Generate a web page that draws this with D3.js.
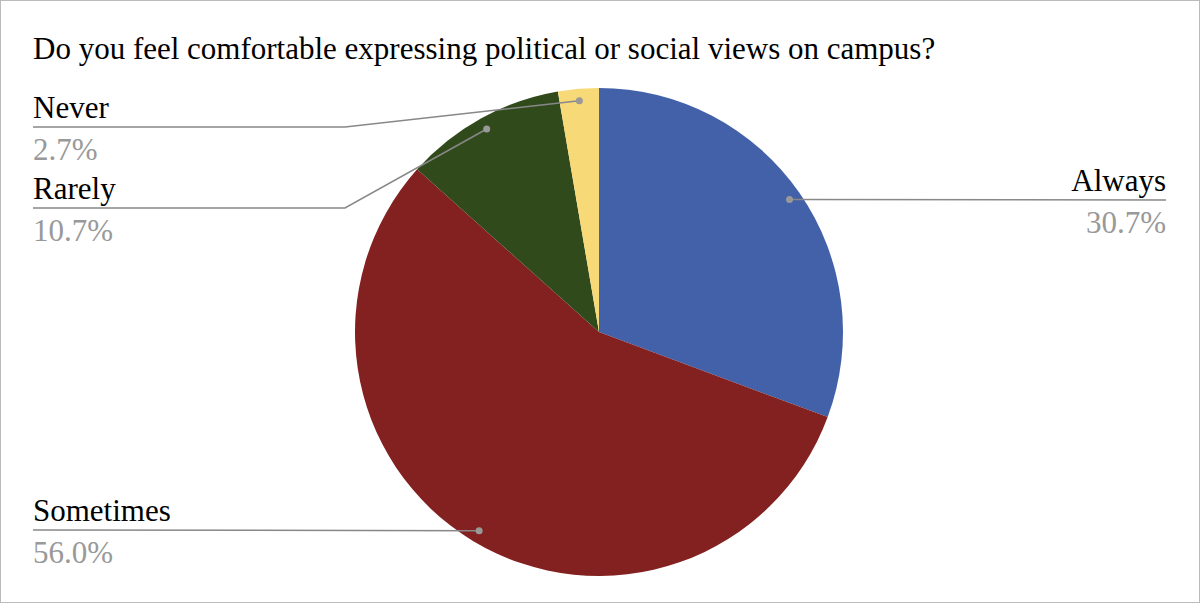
<!DOCTYPE html>
<html><head><meta charset="utf-8">
<script src="https://cdn.jsdelivr.net/npm/d3@7"></script>
<style>body{margin:0;background:#fff}</style>
</head><body>
<svg id="chart" width="1200" height="603"></svg>
<script>
const categories = ["Always", "Sometimes", "Rarely", "Never"];
const values = [30.7, 56.0, 10.7, 2.7];
const colors = ["#4361a8", "#832020", "#314a1c", "#f7d978"];
const pctLabels = ["30.7%", "56.0%", "10.7%", "2.7%"];

const svg = d3.select("#chart");
const cx = 599, cy = 332, r = 244;
const font = "'Liberation Serif', 'Times New Roman', serif";

svg.append("rect").attr("x", 0.5).attr("y", 0.5).attr("width", 1199).attr("height", 602)
  .attr("fill", "none").attr("stroke", "#bbb");

svg.append("text").attr("x", 33).attr("y", 59).attr("font-family", font)
  .attr("font-size", 31).attr("fill", "#000")
  .text("Do you feel comfortable expressing political or social views on campus?");

const pie = d3.pie().sort(null).value(d => d)(values);
const arc = d3.arc().innerRadius(0).outerRadius(r);
const dotArc = d3.arc().innerRadius(232).outerRadius(232);

const g = svg.append("g").attr("transform", `translate(${cx},${cy})`);
g.selectAll("path").data(pie).join("path")
  .attr("d", arc).attr("fill", (d, i) => colors[i]);

// label layout: [labelY(line), side, elbowX]
const layout = [
  { lineY: 200, side: "right" },
  { lineY: 530, side: "left" },
  { lineY: 208, side: "left", elbow: 345 },
  { lineY: 127, side: "left", elbow: 345 }
];

pie.forEach((d, i) => {
  const [dx, dy] = dotArc.centroid(d);
  const px = cx + dx, py = cy + dy;
  const L = layout[i];
  let pts;
  if (L.side === "right") pts = [[1166, L.lineY], [px, py]];
  else if (L.elbow) pts = [[33, L.lineY], [L.elbow, L.lineY], [px, py]];
  else pts = [[33, L.lineY], [px, py]];
  svg.append("path").attr("d", d3.line()(pts)).attr("fill", "none")
    .attr("stroke", "#888").attr("stroke-width", 1.5);
  svg.append("circle").attr("cx", px).attr("cy", py).attr("r", 3.5).attr("fill", "#999");
  const x = L.side === "right" ? 1166 : 33;
  const anchor = L.side === "right" ? "end" : "start";
  svg.append("text").attr("x", x).attr("y", L.lineY - 9).attr("text-anchor", anchor)
    .attr("font-family", font).attr("font-size", 31).attr("fill", "#000").text(categories[i]);
  svg.append("text").attr("x", x).attr("y", L.lineY + 33).attr("text-anchor", anchor)
    .attr("font-family", font).attr("font-size", 31).attr("fill", "#999").text(pctLabels[i]);
});
</script>
</body></html>
